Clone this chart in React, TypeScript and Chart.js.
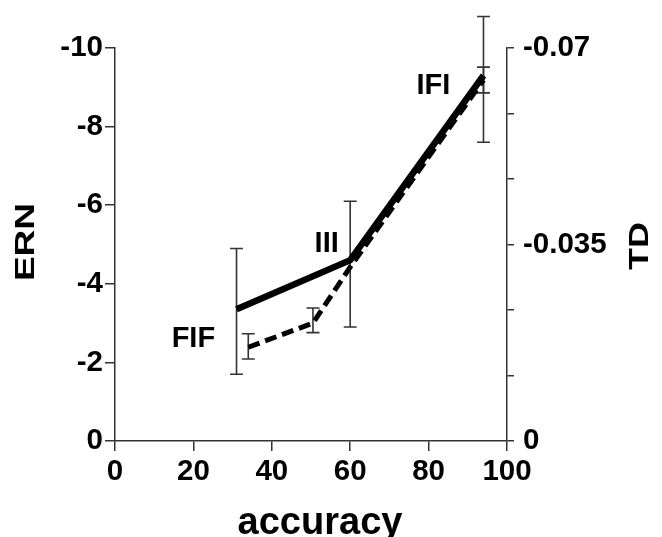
import { useEffect, useRef } from "react";
import { Chart, registerables } from "chart.js";

Chart.register(...registerables);

// ---- data ----
const xTickStep = 20;
const xRange = [0, 100];
const ernRange = [-10, 0];
const ernTickStep = 2;
const tdRange = [-0.07, 0];
const tdTickValues = [0, -0.07 / 6, (-0.07 * 2) / 6, -0.035, (-0.07 * 4) / 6, (-0.07 * 5) / 6, -0.07];
const tdTickLabels = ["0", "", "", "-0.035", "", "", "-0.07"];

// ERN (solid line, left axis)
const ernX = [31, 60, 94];
const ernMean = [-3.35, -4.6, -9.3];
const ernErrLow = [-1.7, -2.9, -7.6];
const ernErrHigh = [-4.9, -6.1, -10.8];

// TD (dashed line, right axis)
const tdX = [34, 50.5, 60.5, 94];
const tdMean = [-0.0167, -0.021, -0.0315, -0.0643];
const tdErrLow = [-0.0146, -0.0193, null, -0.062];
const tdErrHigh = [-0.0191, -0.0237, null, -0.0666];

// condition labels (placed in data coordinates: accuracy, ERN)
const conditionLabels = ["FIF", "III", "IFI"];
const conditionLabelX = [20, 54, 81.2];
const conditionLabelERN = [-2.67, -5.07, -9.1];

const xTitle = "accuracy";
const yTitle = "ERN";
const y2Title = "TD";

const FONT = "'Liberation Sans', Arial, Helvetica, sans-serif";

const overlayPlugin = {
  id: "overlay",
  beforeDatasetsDraw(chart: any) {
    const ctx = chart.ctx;
    const xs = chart.scales.x;
    const ys = chart.scales.y;
    const y2s = chart.scales.y2;
    ctx.save();
    ctx.strokeStyle = "#333";
    ctx.lineWidth = 1.6;
    const cap = 6.5;
    const bar = (xv: number, lo: number, hi: number, sc: any) => {
      const px = xs.getPixelForValue(xv);
      const p1 = sc.getPixelForValue(lo);
      const p2 = sc.getPixelForValue(hi);
      ctx.beginPath();
      ctx.moveTo(px, p1);
      ctx.lineTo(px, p2);
      ctx.moveTo(px - cap, p1);
      ctx.lineTo(px + cap, p1);
      ctx.moveTo(px - cap, p2);
      ctx.lineTo(px + cap, p2);
      ctx.stroke();
    };
    ernX.forEach((xv, i) => bar(xv, ernErrLow[i], ernErrHigh[i], ys));
    tdX.forEach((xv, i) => {
      const lo = tdErrLow[i];
      const hi = tdErrHigh[i];
      if (lo !== null && hi !== null) bar(xv, lo, hi, y2s);
    });
    ctx.restore();
  },
  afterDraw(chart: any) {
    const ctx = chart.ctx;
    const xs = chart.scales.x;
    const ys = chart.scales.y;
    ctx.save();
    ctx.fillStyle = "#000";
    // condition labels
    ctx.font = `bold 29px ${FONT}`;
    ctx.textAlign = "center";
    ctx.textBaseline = "alphabetic";
    conditionLabels.forEach((t, i) => {
      const px = xs.getPixelForValue(conditionLabelX[i]);
      const py = ys.getPixelForValue(conditionLabelERN[i]);
      ctx.fillText(t, px, py + 10.5);
    });
    // x title
    ctx.font = `bold 38px ${FONT}`;
    ctx.fillText(xTitle, 320, 534);
    // y title (left)
    ctx.save();
    ctx.translate(26, 242);
    ctx.rotate(-Math.PI / 2);
    ctx.scale(1, 0.75);
    ctx.font = `bold 37px ${FONT}`;
    ctx.textBaseline = "middle";
    ctx.fillText(yTitle, 0, 0);
    ctx.restore();
    // y2 title (right)
    ctx.save();
    ctx.translate(641, 246);
    ctx.rotate(-Math.PI / 2);
    ctx.scale(1, 0.75);
    ctx.font = `bold 36px ${FONT}`;
    ctx.textBaseline = "middle";
    ctx.fillText(y2Title, 0, 0);
    ctx.restore();
    ctx.restore();
  },
};

export default function App() {
  const ref = useRef<HTMLCanvasElement | null>(null);
  useEffect(() => {
    if (!ref.current) return;
    const tickFont = { family: FONT, size: 29.5, weight: "bold" as const };
    const axisGrid = (len: number) => ({
      display: true,
      drawOnChartArea: false,
      drawTicks: true,
      tickLength: len,
      color: "#333",
      lineWidth: 1.5,
    });
    const border = { display: true, color: "#333", width: 1.5 };
    const chart = new Chart(ref.current, {
      type: "line",
      data: {
        datasets: [
          {
            label: "ERN",
            data: ernX.map((x, i) => ({ x, y: ernMean[i] })),
            yAxisID: "y",
            borderColor: "#000",
            borderWidth: 6.5,
            pointRadius: 0,
            tension: 0,
            fill: false,
          },
          {
            label: "TD",
            data: tdX.map((x, i) => ({ x, y: tdMean[i] })),
            yAxisID: "y2",
            borderColor: "#000",
            borderWidth: 5,
            borderDash: [12, 6],
            pointRadius: 0,
            tension: 0,
            fill: false,
          },
        ],
      },
      options: {
        animation: false,
        responsive: false,
        layout: { padding: { top: 48, left: 0, right: 0, bottom: 0 } },
        plugins: { legend: { display: false }, tooltip: { enabled: false } },
        scales: {
          x: {
            type: "linear",
            position: "bottom",
            min: xRange[0],
            max: xRange[1],
            ticks: { stepSize: xTickStep, color: "#000", font: tickFont, padding: 3, maxRotation: 0 },
            grid: axisGrid(10),
            border,
            afterFit: (s: any) => {
              s.height = 96;
            },
          },
          y: {
            type: "linear",
            position: "left",
            min: ernRange[0],
            max: ernRange[1],
            reverse: true,
            ticks: { stepSize: ernTickStep, color: "#000", font: tickFont, padding: 2 },
            grid: axisGrid(10),
            border,
            afterFit: (s: any) => {
              s.width = 115;
            },
          },
          y2: {
            type: "linear",
            position: "right",
            min: tdRange[0],
            max: tdRange[1],
            reverse: true,
            afterBuildTicks: (s: any) => {
              s.ticks = tdTickValues.map((v) => ({ value: v }));
            },
            ticks: {
              autoSkip: false,
              color: "#000",
              font: tickFont,
              padding: 9,
              callback: (_v: any, i: number) => tdTickLabels[i],
            },
            grid: axisGrid(7),
            border,
            afterFit: (s: any) => {
              s.width = 155;
            },
          },
        },
      },
      plugins: [overlayPlugin],
    } as any);
    return () => chart.destroy();
  }, []);
  return (
    <div style={{ position: "absolute", left: 0, top: 0, width: 662, height: 537, background: "#fff" }}>
      <canvas ref={ref} width={662} height={537} style={{ display: "block" }} />
    </div>
  );
}
